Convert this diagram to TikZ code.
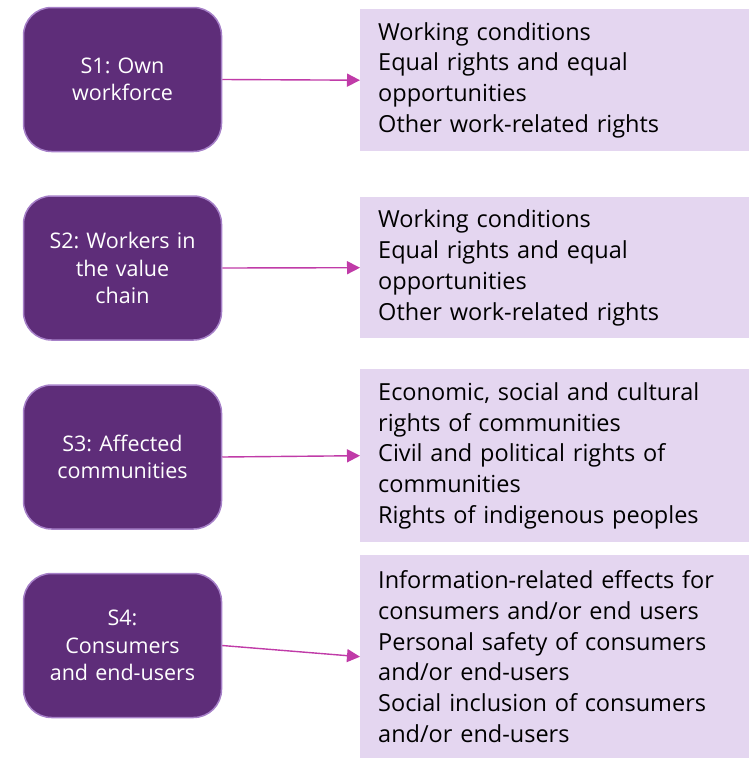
\documentclass[tikz,border=0pt]{standalone}
\usepackage{fontspec}
\setmainfont{Open Sans}
\frenchspacing
\definecolor{main}{RGB}{94,45,121}
\definecolor{second}{RGB}{166,128,200}
\definecolor{third}{RGB}{228,214,240}
\definecolor{fourth}{RGB}{192,59,168}
\usepackage{tikz}
\usetikzlibrary{
	arrows.meta,
	positioning
}
\tikzset{
  % arrow
	cstra/.style      ={-{Triangle[length=13pt,width=13pt]}, draw=fourth, line width=1.4pt}, % right arrow
  % node
	cststake/.style   ={fill=main,draw=second,text=white,rounded corners=28pt,line width=1.5pt,
	                    minimum width=198pt,minimum height=144pt,text width=190pt,inner sep=0pt,
	                    align=center,font=\fontsize{21.5}{27.5}\selectfont}, % stakeholder
	csttopic/.style   ={fill=third,text=black,anchor=north west,text width=360pt,
	                    inner xsep=18pt,inner ysep=0pt,align=left,
	                    font=\fontsize{23.5}{30.8}\selectfont} % sub-topics
}
\begin{document}
\begin{tikzpicture}[x=1pt,y=-1pt]
	\useasboundingbox (0,0) rectangle (749,758);
	% stakeholders
	\node[cststake] (s1) at (122.5,79.5) {S1: Own\\workforce};
	\node[cststake] (s2) at (122.5,268) {S2: Workers in\\the value\\chain};
	\node[cststake] (s3) at (122.5,457) {S3: Affected\\communities};
	\node[cststake] (s4) at (122.5,645.5) {S4:\\Consumers\\and end-users};
	% sub-topics
	\node[csttopic,minimum height=142pt] (t1) at (360,9) {Working conditions\\Equal rights and equal\\opportunities\\Other work-related rights};
	\node[csttopic,minimum height=141pt] (t2) at (360,197) {Working conditions\\Equal rights and equal\\opportunities\\Other work-related rights};
	\node[csttopic,minimum height=173pt] (t3) at (360,369) {Economic, social and cultural\\rights of communities\\Civil and political rights of\\communities\\Rights of indigenous peoples};
	\node[csttopic,minimum height=203pt] (t4) at (360,555) {Information-related effects for\\consumers and/or end users\\Personal safety of consumers\\and/or end-users\\Social inclusion of consumers\\and/or end-users};
	\draw[cstra] (s1.east) -- (t1.west);
	\draw[cstra] (s2.east) -- (t2.west);
	\draw[cstra] (s3.east) -- (t3.west);
	\draw[cstra] (s4.east) -- (t4.west);
\end{tikzpicture}
\end{document}
